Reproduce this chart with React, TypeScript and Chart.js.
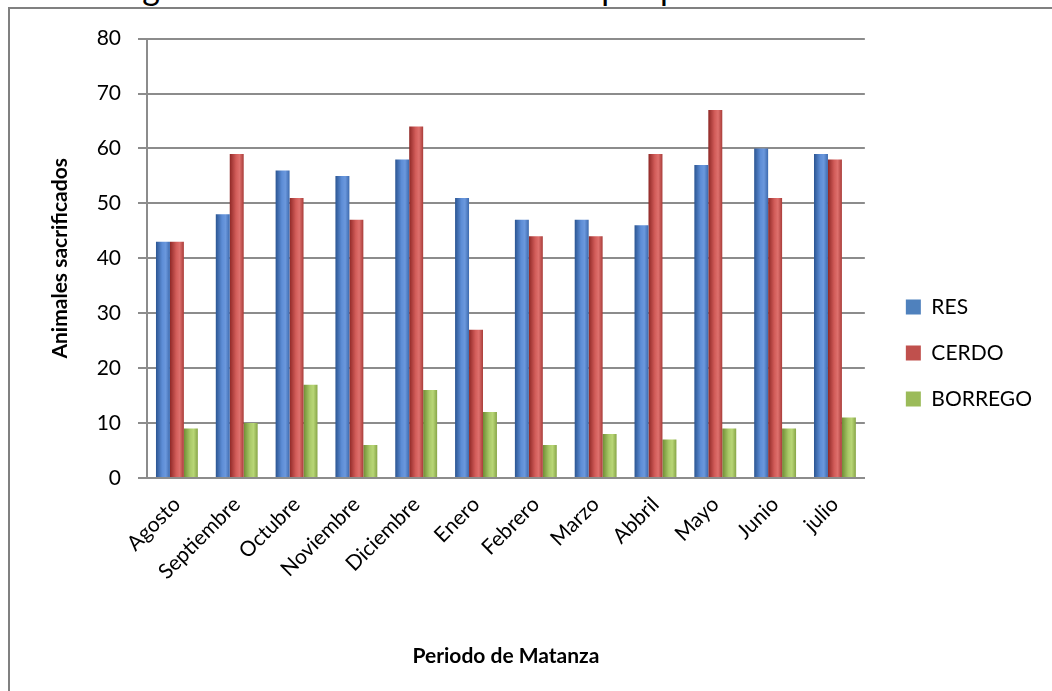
import React, { useEffect, useRef } from "react";
import { Chart, registerables } from "chart.js";

Chart.register(...registerables);

const categories = ["Agosto", "Septiembre", "Octubre", "Noviembre", "Diciembre", "Enero", "Febrero", "Marzo", "Abbril", "Mayo", "Junio", "julio"];
const resValues = [43, 48, 56, 55, 58, 51, 47, 47, 46, 57, 60, 59];
const cerdoValues = [43, 59, 51, 47, 64, 27, 44, 44, 59, 67, 51, 58];
const borregoValues = [9, 10, 17, 6, 16, 12, 6, 8, 7, 9, 9, 11];
const seriesNames = ["RES", "CERDO", "BORREGO"];
const yTitle = "Animales sacrificados";
const xTitle = "Periodo de Matanza";
const chartTitle = "Registro de animales sacrificados por periodo de matanza";

const FONT = "Lato, 'Noto Sans', sans-serif";

const palettes = [
  { base: "#4f81bd", stops: ["#2b5592", "#5d8dd6", "#6b98dd", "#3d6aae"] },
  { base: "#c0504d", stops: ["#8f2826", "#d25c59", "#de706d", "#a93c39"] },
  { base: "#9bbb59", stops: ["#6f8d35", "#a9c968", "#b8d676", "#87a547"] },
];

const gradientPlugin = {
  id: "cylGradient",
  beforeDatasetsDraw(chart: any) {
    const ctx = chart.ctx;
    chart.data.datasets.forEach((_: any, di: number) => {
      const meta = chart.getDatasetMeta(di);
      const pal = palettes[di];
      meta.data.forEach((el: any) => {
        const { x, width } = el.getProps(["x", "width"], true);
        const g = ctx.createLinearGradient(x - width / 2, 0, x + width / 2, 0);
        g.addColorStop(0, pal.stops[0]);
        g.addColorStop(0.45, pal.stops[1]);
        g.addColorStop(0.7, pal.stops[2]);
        g.addColorStop(1, pal.stops[3]);
        el.options = Object.assign({}, el.options, { backgroundColor: g });
      });
    });
  },
};

const legendShift = {
  id: "legendShift",
  afterLayout(chart: any) {
    const l = chart.legend;
    if (l) {
      l.left += 16;
      l.right += 16;
      l.top -= 13;
      l.bottom -= 13;
    }
  },
};

export default function App() {
  const ref = useRef<HTMLCanvasElement | null>(null);
  useEffect(() => {
    if (!ref.current) return;
    const values = [resValues, cerdoValues, borregoValues];
    const chart = new Chart(ref.current, {
      type: "bar",
      data: {
        labels: categories,
        datasets: seriesNames.map((name, i) => ({
          label: name,
          data: values[i],
          backgroundColor: palettes[i].base,
          borderWidth: 0,
          barPercentage: 1.0,
          categoryPercentage: 0.7,
        })),
      },
      options: {
        animation: false,
        responsive: false,
        maintainAspectRatio: false,
        layout: { padding: { top: 28, right: 26, bottom: 0, left: 38 } },
        plugins: {
          tooltip: { enabled: false },
          title: { display: false },
          legend: {
            position: "right",
            align: "center",
            labels: {
              boxWidth: 15,
              boxHeight: 15,
              padding: 25,
              color: "#000",
              font: { family: FONT, size: 21 },
            },
          },
        },
        scales: {
          x: {
            grid: { display: false },
            border: { display: true, color: "#8c8c8c", width: 2 },
            ticks: {
              autoSkip: false,
              maxRotation: 45,
              minRotation: 45,
              color: "#000",
              padding: 6,
              font: { family: FONT, size: 21 },
            },
            title: {
              display: true,
              text: xTitle,
              color: "#000",
              font: { family: FONT, size: 21, weight: "bold" },
              padding: { top: 4, bottom: 26 },
            },
            afterFit(scale: any) {
              scale.height = 217;
            },
          },
          y: {
            min: 0,
            max: 80,
            ticks: {
              stepSize: 10,
              color: "#000",
              padding: 17,
              font: { family: FONT, size: 21 },
            },
            grid: { color: "#8c8c8c", lineWidth: 2, tickLength: 9, drawTicks: true },
            border: { display: true, color: "#8c8c8c", width: 2 },
            title: {
              display: true,
              text: yTitle,
              color: "#000",
              font: { family: FONT, size: 21, weight: "bold" },
              padding: { top: 0, bottom: 14 },
            },
            afterFit(scale: any) {
              scale.width = 99;
            },
          },
        },
      },
      plugins: [gradientPlugin, legendShift],
    } as any);
    return () => chart.destroy();
  }, []);

  return (
    <div style={{ position: "fixed", left: 0, top: 0, width: 1052, height: 691, overflow: "hidden", background: "#fff" }}>
      <div
        style={{
          position: "absolute",
          left: 104,
          top: -30,
          fontFamily: FONT,
          fontSize: 34,
          lineHeight: "34px",
          color: "#000",
          whiteSpace: "nowrap",
        }}
      >
        {chartTitle}
      </div>
      <div
        style={{
          position: "absolute",
          left: 8,
          top: 7,
          width: 1100,
          height: 720,
          border: "2px solid #808080",
          boxSizing: "border-box",
        }}
      />
      <canvas ref={ref} width={1042} height={686} style={{ position: "absolute", left: 10, top: 9, width: 1042, height: 686 }} />
    </div>
  );
}
